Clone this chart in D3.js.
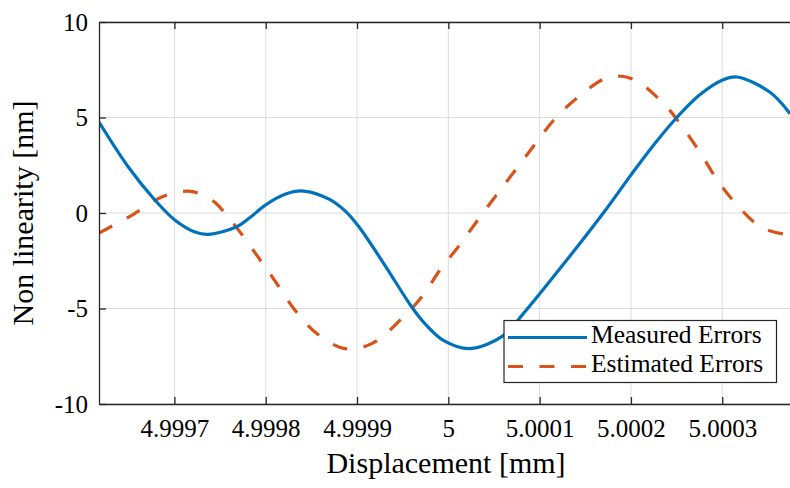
<!DOCTYPE html>
<html>
<head>
<meta charset="utf-8">
<script src="https://d3js.org/d3.v7.min.js"></script>
<style>
 body { margin: 0; background: #fff; }
 text { font-family: "Liberation Serif", "DejaVu Serif", serif; fill: #000; }
</style>
</head>
<body>
<div id="graph"></div>
<script>
// displacement [mm] / non linearity [nm]
var measuredX = [4.9996174, 4.9996495, 4.9996788, 4.9997007, 4.9997226, 4.9997368, 4.9997682, 4.9997828,
                 4.9997992, 4.9998211, 4.9998412, 4.9998704, 4.9998869, 4.9999014, 4.9999307, 4.9999599,
                 4.9999745, 4.9999945, 5.0000238, 5.0000602, 5.0000821, 5.0001223, 5.0001716, 5.0002009,
                 5.0002264, 5.0002502, 5.0002757, 5.0002998, 5.0003159, 5.0003523, 5.0003742];
var measuredY = [4.76, 2.41, 0.67, -0.38, -1.00, -1.12, -0.72, -0.24,
                 0.40, 0.98, 1.15, 0.70, 0.11, -0.68, -2.75, -4.92,
                 -5.80, -6.67, -7.10, -6.42, -5.27, -2.91, 0.12, 2.05,
                 3.65, 5.00, 6.20, 6.95, 7.12, 6.32, 5.20];
var estimatedX = [4.9996174, 4.9996532, 4.9996861, 4.9997152, 4.9997280, 4.9997445, 4.9997586, 4.9997719,
                  4.9997938, 4.9998121, 4.9998321, 4.9998559, 4.9998869, 4.9999161, 4.9999489, 4.9999708,
                  4.9999909, 5.0000128, 5.0000329, 5.000053, 5.0000749, 5.0000968, 5.0001168, 5.0001423,
                  5.0001716, 5.00019, 5.0002082, 5.0002374, 5.0002538, 5.0002765, 5.0002948, 5.0003149,
                  5.0003422, 5.0003696, 5.0003742];
var estimatedY = [-1.05, -0.12, 0.84, 1.15, 1.00, 0.55, -0.20, -1.00,
                  -2.45, -3.69, -5.09, -6.31, -7.10, -6.84, -5.53, -4.40,
                  -2.98, -1.65, -0.33, 0.96, 2.34, 3.72, 4.94, 6.07,
                  7.04, 7.16, 6.86, 5.64, 4.68, 3.11, 1.71, 0.49,
                  -0.73, -1.12, -1.12];
var xTicks = [4.9997, 4.9998, 4.9999, 5, 5.0001, 5.0002, 5.0003];
var xTickLabels = ["4.9997", "4.9998", "4.9999", "5", "5.0001", "5.0002", "5.0003"];
var yTicks = [-10, -5, 0, 5, 10];
var yTickLabels = ["-10", "-5", "0", "5", "10"];
var seriesNames = ["Measured Errors", "Estimated Errors"];

var width = 790, height = 488;
var pLeft = 99, pRight = 790, pTop = 22, pBottom = 404;
var axisColor = "#262626";
var serif = "'Liberation Serif', 'DejaVu Serif', serif";

var svg = d3.select("#graph").append("svg")
  .attr("width", width).attr("height", height);

var x = d3.scaleLinear().domain([4.9996174, 5.0003742]).range([pLeft, pRight]);
var y = d3.scaleLinear().domain([-10, 10]).range([pBottom, pTop]);

// grid
var grid = svg.append("g").attr("stroke", "#dcdcdc").attr("stroke-width", 1);
grid.selectAll(".gx").data(xTicks).enter().append("line")
  .attr("x1", d => x(d)).attr("x2", d => x(d)).attr("y1", pTop).attr("y2", pBottom);
grid.selectAll(".gy").data(yTicks).enter().append("line")
  .attr("x1", pLeft).attr("x2", pRight).attr("y1", d => y(d)).attr("y2", d => y(d));

// curves
svg.append("clipPath").attr("id", "clip").append("rect")
  .attr("x", pLeft).attr("y", pTop).attr("width", pRight - pLeft).attr("height", pBottom - pTop);

var line = d3.line().curve(d3.curveCatmullRom.alpha(0.5))
  .x(d => x(d[0])).y(d => y(d[1]));

var measured = d3.zip(measuredX, measuredY);
var estimated = d3.zip(estimatedX, estimatedY);

var curves = svg.append("g").attr("clip-path", "url(#clip)");
curves.append("path").datum(estimated)
  .attr("d", line).attr("fill", "none")
  .attr("stroke", "#D95319").attr("stroke-width", 3.2)
  .attr("stroke-dasharray", "15,16.5");
curves.append("path").datum(measured)
  .attr("d", line).attr("fill", "none")
  .attr("stroke", "#0072BD").attr("stroke-width", 3.2);

// axes (ticks inside, box on)
var xAxis = d3.axisBottom(x).tickValues(xTicks).tickSizeInner(-7).tickSizeOuter(0)
  .tickFormat((d, i) => xTickLabels[i]);
var gx = svg.append("g").attr("transform", "translate(0," + pBottom + ")").call(xAxis);
gx.selectAll("text").attr("dy", null).attr("y", 33).style("font-size", "25px");

var xTop = d3.axisTop(x).tickValues(xTicks).tickSizeInner(-7).tickSizeOuter(0).tickFormat("");
svg.append("g").attr("transform", "translate(0," + pTop + ")").call(xTop);

var yAxis = d3.axisLeft(y).tickValues(yTicks).tickSizeInner(-7).tickSizeOuter(0)
  .tickFormat((d, i) => yTickLabels[i]);
var gy = svg.append("g").attr("transform", "translate(" + pLeft + ",0)").call(yAxis);
gy.selectAll("text").attr("x", -11).attr("dy", "0.33em").style("font-size", "25px");

svg.selectAll(".domain, .tick line").attr("stroke", axisColor).attr("stroke-width", 1.3);
svg.selectAll("g").attr("font-family", serif);

// axis labels
svg.append("text").attr("x", 446).attr("y", 473)
  .attr("text-anchor", "middle").style("font-size", "30px")
  .text("Displacement [mm]");
svg.append("text").attr("transform", "translate(33,213) rotate(-90)")
  .attr("text-anchor", "middle").style("font-size", "30px")
  .text("Non linearity [nm]");

// legend
var lg = svg.append("g");
lg.append("rect").attr("x", 504).attr("y", 320.5).attr("width", 272.5).attr("height", 62)
  .attr("fill", "#fff").attr("stroke", axisColor).attr("stroke-width", 1.2);
var legendColors = ["#0072BD", "#D95319"];
var legendDash = [null, "15,16.5"];
seriesNames.forEach(function (name, i) {
  var ly = 337.5 + i * 29;
  lg.append("line").attr("x1", 508).attr("x2", 587).attr("y1", ly).attr("y2", ly)
    .attr("stroke", legendColors[i]).attr("stroke-width", 3.2)
    .attr("stroke-dasharray", legendDash[i]);
  lg.append("text").attr("x", 591).attr("y", ly + 5.5)
    .style("font-size", "25.5px").text(name);
});
</script>
</body>
</html>
